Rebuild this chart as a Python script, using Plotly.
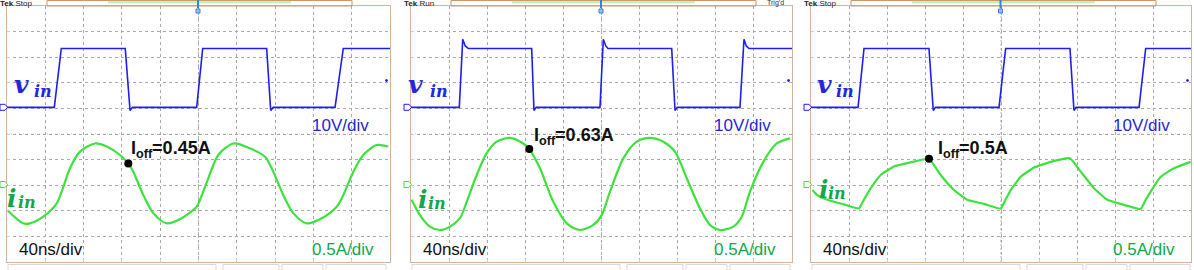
import plotly.graph_objects as go

W, H = 1194, 270

# ---------------- scope settings ----------------
TIME_RANGE = [0, 400]          # 40 ns/div x 10 div
VIN_SCALE = 10                 # V/div
IIN_SCALE = 0.5                # A/div
VIN_GND_DIV = 6.04             # ch1 ground marker (div from bottom)
IIN_GND_DIV = 3.03             # ch4 ground marker (div from bottom)

# ---------------- data (t in ns, vin in V, iin in A) ----------------
vin1_t = [0, 49.4, 56.7, 123.5, 128.5, 131, 198.1, 204.4, 271.2, 275.4, 278, 342.6, 351.2, 400]
vin1_v = [0, 0, 23, 23, -1.2, 0, 0, 23, 23, -1.2, 0, 0, 23, 23]

vin2_t = [0, 50.7, 54.3, 57, 60.2, 126.7, 129.1, 131.5, 198.4, 201.9, 204.5, 206.8, 273.7, 277.2,
          279.5, 345.4, 349.6, 352, 354.9, 400]
vin2_v = [0, 0, 26.6, 24, 23, 23, -1.2, 0, 0, 26.6, 24, 23, 23, -1.2, 0, 0, 26.6, 24, 23, 23]

vin3_t = [0, 49.5, 55.8, 124.2, 128.7, 131, 197.9, 204.9, 272.6, 276.8, 279, 345.3, 352.3, 400]
vin3_v = [0, 0, 23, 23, -1.2, 0, 0, 23, 23, -1.2, 0, 0, 23, 23]

iin1_t = [0.3, 16.7, 24.0, 37.9, 51.9, 57.1, 65.8, 76.2, 91.9, 104.1, 118.0, 126.7, 131.9, 142.4,
          152.8, 166.8, 182.5, 198.1, 201.6, 210.2, 220.7, 236.4, 253.8, 269.5, 278.1, 288.6,
          299.0, 313.0, 328.7, 344.3, 351.2, 361.7, 372.1, 386.1, 398.2]
iin1_a = [-0.50, -0.76, -0.76, -0.63, -0.37, -0.14, 0.315, 0.64, 0.80, 0.74, 0.575, 0.41, 0.25, -0.21,
          -0.56, -0.76, -0.66, -0.435, -0.30, 0.12, 0.575, 0.80, 0.705, 0.54, 0.25, -0.21,
          -0.56, -0.76, -0.66, -0.435, -0.21, 0.25, 0.575, 0.77, 0.74]

iin2_t = [0.7, 9.4, 19.9, 30.4, 40.9, 51.4, 58.5, 69.0, 79.5, 90.0, 103.9, 117.9, 124.2, 135.4,
          149.4, 163.5, 177.4, 191.4, 200.2, 208.9, 222.9, 237.0, 250.9, 264.9, 277.2, 289.5,
          303.4, 313.9, 324.4, 338.4, 347.2, 355.9, 369.9, 384.0, 397.9]
iin2_a = [-0.30, -0.60, -0.825, -0.89, -0.825, -0.66, -0.34, 0.185, 0.61, 0.835, 0.91, 0.80, 0.69, 0.315,
          -0.34, -0.76, -0.89, -0.79, -0.60, -0.14, 0.51, 0.835, 0.91, 0.835, 0.64, 0.12,
          -0.47, -0.79, -0.89, -0.825, -0.63, -0.14, 0.44, 0.80, 0.90]

iin3_t = [1.4, 6.6, 17.2, 34.7, 50.5, 56.5, 62.8, 73.4, 87.4, 104.9, 124.2, 136.5, 150.5, 164.5, 182.1,
          199.7, 205.0, 210.2, 220.7, 234.7, 252.3, 272.6, 283.9, 297.9, 311.9, 329.5, 347.0, 352.0,
          357.6, 368.1, 382.1, 399.7]
iin3_a = [-0.11, -0.21, -0.30, -0.39, -0.47, -0.27, -0.075, 0.185, 0.35, 0.43, 0.50, 0.185, -0.11, -0.30,
          -0.38, -0.47, -0.29, -0.11, 0.15, 0.33, 0.44, 0.51, 0.25, -0.075, -0.30, -0.40, -0.48, -0.31,
          -0.14, 0.15, 0.315, 0.44]

ioff_t = [126.7, 124.2, 124.2]
ioff_a = [0.41, 0.69, 0.50]
ioff_labels = ["0.45A", "0.63A", "0.5A"]
status_labels = ["Stop", "Run", "Stop"]

vin_t = [vin1_t, vin2_t, vin3_t]
vin_v = [vin1_v, vin2_v, vin3_v]
iin_t = [iin1_t, iin2_t, iin3_t]
iin_a = [iin1_a, iin2_a, iin3_a]

# ---------------- styling / layout geometry (pixels) ----------------
BLUE_TRACE = '#1e1ef0'
BLUE_TEXT = '#2626d8'
GREEN_TRACE = '#3ee23e'
GREEN_TEXT = '#12a84a'
FRAME = '#d4b49c'
HEADER = '#c99870'
GRID = '#a9a9a9'
SANS = 'Liberation Sans'
SERIF = 'DejaVu Serif'

panels = [(7, 390), (411, 792), (811, 1191)]
TOP, BOT = 6, 262


def px(x):
    return x / W


def py(y):
    return 1 - y / H


fig = go.Figure()
layout = dict(width=W, height=H, margin=dict(l=0, r=0, t=0, b=0),
              paper_bgcolor='white', plot_bgcolor='rgba(0,0,0,0)', showlegend=False)
shapes = []
annotations = []


def ann(text, x, y, size, color, family=SANS, weight='normal', style='normal',
        xanchor='left', yanchor='middle'):
    annotations.append(dict(text=text, x=px(x), y=py(y), xref='paper', yref='paper',
                            showarrow=False, xanchor=xanchor, yanchor=yanchor, borderpad=0,
                            font=dict(family=family, size=size, color=color,
                                      weight=weight, style=style)))


vin_range = [-VIN_GND_DIV * VIN_SCALE, (10 - VIN_GND_DIV) * VIN_SCALE]
iin_range = [-IIN_GND_DIV * IIN_SCALE, (10 - IIN_GND_DIV) * IIN_SCALE]

for k in range(3):
    n = k + 1
    l, r = panels[k]
    xname = 'x' if n == 1 else f'x{n}'
    yname = 'y' if n == 1 else f'y{n}'
    layout['xaxis' if n == 1 else f'xaxis{n}'] = dict(
        domain=[px(l), px(r)], range=TIME_RANGE, anchor=yname, dtick=40, tick0=0,
        showgrid=True, gridcolor=GRID, griddash='dot', gridwidth=1, zeroline=False,
        showticklabels=False, showline=True, linecolor=FRAME, linewidth=1, mirror=True,
        ticks='inside', ticklen=3, tickcolor='#cfcfcf')
    # base y axis = ch1 (vin) scale, grid on every division
    layout['yaxis' if n == 1 else f'yaxis{n}'] = dict(
        domain=[py(BOT), py(TOP)], range=vin_range, anchor=xname, dtick=VIN_SCALE,
        tick0=vin_range[0],
        showgrid=True, gridcolor=GRID, griddash='dot', gridwidth=1, zeroline=False,
        showticklabels=False, showline=True, linecolor=FRAME, linewidth=1, mirror=True,
        ticks='inside', ticklen=3, tickcolor='#cfcfcf')
    # overlay y axis = ch4 (iin) scale
    layout[f'yaxis{3 + n}'] = dict(overlaying=yname, anchor=xname, range=iin_range, visible=False)

    fig.add_trace(go.Scatter(x=vin_t[k], y=vin_v[k], mode='lines', xaxis=xname, yaxis=yname,
                             line=dict(color=BLUE_TRACE, width=1.6), hoverinfo='skip'))
    fig.add_trace(go.Scatter(x=iin_t[k], y=iin_a[k], mode='lines', xaxis=xname, yaxis=f'y{3 + n}',
                             line=dict(color=GREEN_TRACE, width=2.2, shape='spline',
                                       smoothing=0.8 if k < 2 else 0.35), hoverinfo='skip'))
    fig.add_trace(go.Scatter(x=[ioff_t[k]], y=[ioff_a[k]], mode='markers', xaxis=xname,
                             yaxis=f'y{3 + n}', marker=dict(color='black', size=8), hoverinfo='skip'))

    # centre lines
    cx = (l + r) / 2
    cy = (TOP + BOT) / 2
    shapes.append(dict(type='line', xref='paper', yref='paper', x0=px(cx), x1=px(cx),
                       y0=py(BOT), y1=py(TOP), line=dict(color='#b4b4b4', width=1, dash='2px,2px'),
                       layer='below'))
    shapes.append(dict(type='line', xref='paper', yref='paper', x0=px(l), x1=px(r),
                       y0=py(cy), y1=py(cy), line=dict(color='#c4c4c4', width=1, dash='1px,3px'),
                       layer='below'))

    # header bar
    hx0, hx1 = l + 40, l + 345
    shapes.append(dict(type='rect', xref='paper', yref='paper', x0=px(hx0), x1=px(hx1),
                       y0=py(TOP), y1=py(0.5), line=dict(color=HEADER, width=1)))
    shapes.append(dict(type='line', xref='paper', yref='paper', x0=px(l + 101), x1=px(l + 284),
                       y0=py(2.3), y1=py(2.3), line=dict(color='#b4f0b4', width=2)))
    # trigger marker
    tx = cx - 0.5
    shapes.append(dict(type='line', xref='paper', yref='paper', x0=px(tx), x1=px(tx),
                       y0=py(0), y1=py(8), line=dict(color='#3b7fd9', width=2)))
    shapes.append(dict(type='rect', xref='paper', yref='paper', x0=px(tx - 2), x1=px(tx + 2),
                       y0=py(13), y1=py(9), line=dict(color='#3b7fd9', width=1), fillcolor='#9cc2f0'))

    # ground markers (left)
    for gy, col in [(107.3, BLUE_TRACE), (184.5, GREEN_TRACE)]:
        x0 = l - 7
        path = (f"M {px(x0)},{py(gy - 3)} L {px(x0 + 5)},{py(gy - 3)} L {px(x0 + 7.5)},{py(gy)} "
                f"L {px(x0 + 5)},{py(gy + 3)} L {px(x0)},{py(gy + 3)} Z")
        shapes.append(dict(type='path', xref='paper', yref='paper', path=path,
                           line=dict(color=col, width=1), fillcolor='white'))
    # small blue marker at right edge
    shapes.append(dict(type='circle', xref='paper', yref='paper', x0=px(r - 4.5), x1=px(r - 2.5),
                       y0=py(81.5), y1=py(79.5), line=dict(color=BLUE_TRACE, width=1),
                       fillcolor=BLUE_TRACE))
    # bottom status boxes
    for a, b in [(1, 209), (216, 272), (275, 316), (319, 379)]:
        shapes.append(dict(type='rect', xref='paper', yref='paper', x0=px(l + a), x1=px(l + b),
                           y0=py(272), y1=py(264.5), line=dict(color='#d9d9d9', width=1)))

    # header text
    ann('<b>Tek</b> ' + status_labels[k], l - 8, 3.2, 8, '#222222')
    if k == 1:
        ann("Trig'd", l + 355, 3.2, 7, '#333333')

# ---------------- text labels ----------------
v_pos = [(13, 33), (407, 429), (816, 835)]
v_y = [(84.5, 91), (84.5, 91), (84.5, 91)]
i_pos = [(6, 17), (417, 427), (818, 827)]
i_y = [(198, 202.5), (199, 203), (189, 193)]
ioff_pos = [(130, 147.5), (533, 134), (937, 147.5)]

for k in range(3):
    l, r = panels[k]
    ann('v', v_pos[k][0], v_y[k][0], 25, BLUE_TEXT, family=SERIF, weight='bold', style='italic')
    ann('in', v_pos[k][1], v_y[k][1], 16, BLUE_TEXT, family=SERIF, weight='bold', style='italic')
    ann('i', i_pos[k][0], i_y[k][0], 25, GREEN_TEXT, family=SERIF, weight='bold', style='italic')
    ann('in', i_pos[k][1], i_y[k][1], 16, GREEN_TEXT, family=SERIF, weight='bold', style='italic')
    ann('10V/div', r - 20, 125, 17, BLUE_TEXT, xanchor='right')
    ann('0.5A/div', r - 15, 249, 17, GREEN_TEXT, xanchor='right')
    ann('40ns/div', l + 11, 249, 17, '#111111')
    ann('I<sub>off</sub>=' + ioff_labels[k], ioff_pos[k][0], ioff_pos[k][1] + 2, 18, '#111111',
        weight='bold')

layout['shapes'] = shapes
layout['annotations'] = annotations
fig.update_layout(**layout)
fig.write_html('out.html')
